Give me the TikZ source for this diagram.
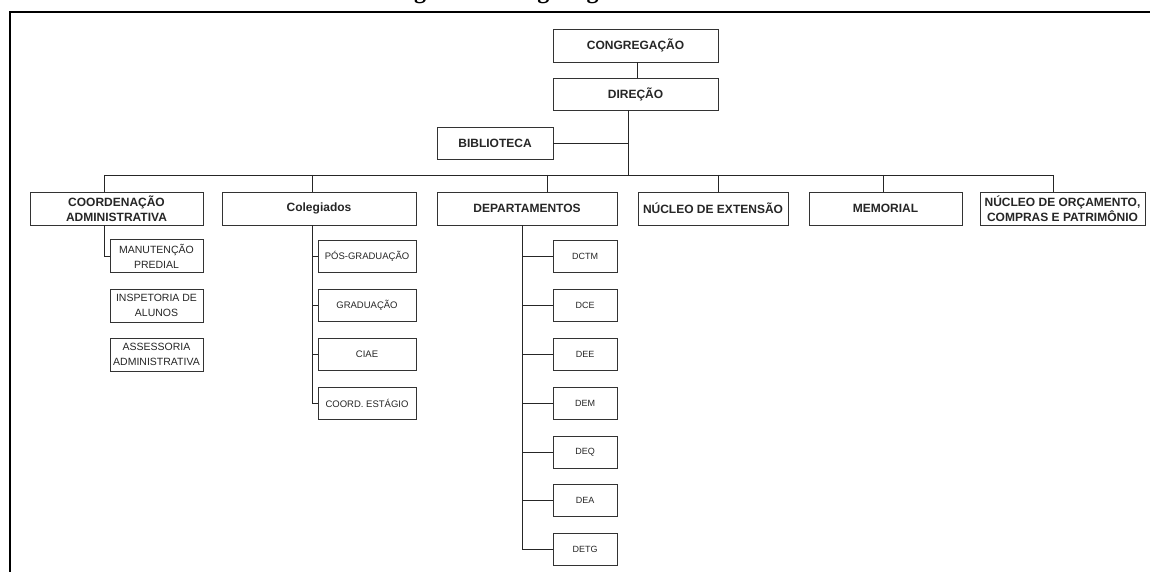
\documentclass[tikz,border=0pt]{standalone}
\usepackage{fontspec}
\setmainfont{Liberation Sans}
\newfontfamily\titlefont{Liberation Serif}
\begin{document}
\begin{tikzpicture}[x=1pt,y=-1pt]
\tikzset{
  box/.style={draw=black!80, line width=0.9pt, inner sep=0pt, align=center, text=black!85},
  mainbox/.style={box, font=\bfseries\fontsize{12}{15.5}\selectfont, minimum height=33pt},
  subca/.style={box, font=\fontsize{10.5}{15}\selectfont, minimum width=93pt, minimum height=33pt},
  subcol/.style={box, font=\fontsize{9.5}{12}\selectfont, minimum width=98pt, minimum height=32pt},
  subdep/.style={box, font=\fontsize{9}{11}\selectfont, minimum width=64pt, minimum height=32pt},
  link/.style={draw=black!85, line width=0.9pt},
  frameline/.style={draw=black, line width=2pt}
}
\useasboundingbox (0,0) rectangle (1150,572);
\clip (0,0) rectangle (1150,572);
\fill[white] (0,0) rectangle (1150,572);
% title, cut off at the top
\node[anchor=base, font=\titlefont\bfseries\fontsize{24}{28}\selectfont, inner sep=0pt] (title) at (585,-1) {Figura 1 -- Organograma da Unidade};
% frame
\coordinate (fc) at (10,12);
\coordinate (fr) at (1152,12);
\coordinate (fb) at (10,574);
\draw[frameline] (fr) -- (fc) -- (fb);
% top nodes
\node[mainbox, minimum width=165pt] (cong) at (635.5,45.5) {CONGREGAÇÃO};
\node[mainbox, minimum width=165pt, minimum height=32pt] (dir) at (635.5,94) {DIREÇÃO};
\node[mainbox, minimum width=116pt, minimum height=32pt] (bib) at (495,143) {BIBLIOTECA};
% level 1
\node[mainbox, minimum width=173pt] (ca) at (116.5,208.5) {COORDENAÇÃO\\ADMINISTRATIVA};
\node[mainbox, minimum width=194pt] (col) at (319,208.5) {Colegiados};
\node[mainbox, minimum width=180pt] (dep) at (527,208.5) {DEPARTAMENTOS};
\node[mainbox, minimum width=150pt] (nex) at (713,208.5) {NÚCLEO DE EXTENSÃO};
\node[mainbox, minimum width=153pt] (mem) at (885.5,208.5) {MEMORIAL};
\node[mainbox, minimum width=165pt] (nor) at (1062.5,208.5) {NÚCLEO DE ORÇAMENTO,\\COMPRAS E PATRIMÔNIO};
% CA subs
\node[subca] (man) at (156.5,256) {MANUTENÇÃO\\PREDIAL};
\node[subca] (ins) at (156.5,305.5) {INSPETORIA DE\\ALUNOS};
\node[subca] (ass) at (156.5,354.5) {ASSESSORIA\\ADMINISTRATIVA};
% Colegiados subs
\node[subcol] (pos) at (367,256) {PÓS-GRADUAÇÃO};
\node[subcol] (gra) at (367,305.5) {GRADUAÇÃO};
\node[subcol] (ciae) at (367,354.5) {CIAE};
\node[subcol] (ces) at (367,403) {COORD. ESTÁGIO};
% Departamentos subs
\node[subdep] (dctm) at (585,256) {DCTM};
\node[subdep] (dce) at (585,305) {DCE};
\node[subdep] (dee) at (585,354) {DEE};
\node[subdep] (dem) at (585,403) {DEM};
\node[subdep] (deq) at (585,452) {DEQ};
\node[subdep] (dea) at (585,500.5) {DEA};
\node[subdep] (detg) at (585,549) {DETG};
% junction coordinates
\coordinate (jd) at (628,175);
\coordinate (jb) at (628,143);
\coordinate (bca) at (104,175);
\coordinate (bcol) at (312,175);
\coordinate (bdep) at (547,175);
\coordinate (bnex) at (718,175);
\coordinate (bmem) at (883,175);
\coordinate (bnor) at (1053,175);
\coordinate (vdep) at (522,225);
% connectors
\draw[link] ([xshift=2pt]cong.south) -- ([xshift=2pt]dir.north);
\draw[link] (jd |- dir.south) -- (jd);
\draw[link] (bib.east) -- (jb);
\draw[link] (bca) -- (bnor);
\foreach \b/\n in {bca/ca, bcol/col, bdep/dep, bnex/nex, bmem/mem, bnor/nor}
  \draw[link] (\b) -- (\b |- \n.north);
\draw[link] (bca |- ca.south) |- (man.west);
\draw[link] (bcol |- col.south) |- (ces.west);
\foreach \n in {pos, gra, ciae}
  \draw[link] (\n.west) -- (\n.west -| bcol);
\draw[link] (vdep |- dep.south) |- (detg.west);
\foreach \n in {dctm, dce, dee, dem, deq, dea}
  \draw[link] (\n.west) -- (\n.west -| vdep);
\end{tikzpicture}
\end{document}
